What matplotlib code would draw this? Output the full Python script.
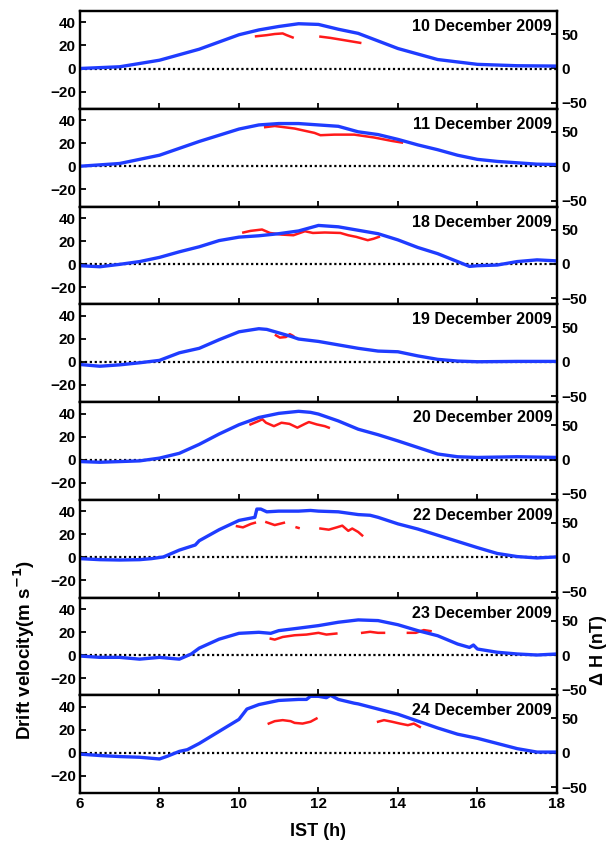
"""Deriva vertical (vermelho) e ΔH (azul) para oito dias de dezembro de 2009."""

import matplotlib

matplotlib.use("Agg")
import matplotlib.pyplot as plt
import numpy as np

nan = np.nan

# ---- 10 December 2009 ----
h10_t = [6, 7, 8, 9, 10, 10.5, 11, 11.5, 12, 12.5, 13, 14, 15, 16, 17, 18]
h10_dh = [0, 2.5, 12, 28, 49, 56, 61, 65, 64, 57, 51, 29, 13, 6, 4, 3.5]
v10_t = [10.43, 10.7, 10.9, 11.1, 11.2, 11.35, 11.36, 12.05, 12.3, 12.6, 13.05]
v10_v = [28, 29, 30, 30.5, 29, 27, nan, 27.7, 26.6, 24.9, 22.3]

# ---- 11 December 2009 ----
h11_t = [6, 7, 8, 9, 10, 10.5, 11, 11.5, 12, 12.5, 13, 13.5, 14, 14.5, 15, 15.5,
         16, 16.5, 17, 17.5, 18]
h11_dh = [0, 4, 16, 36, 54, 60, 62, 62, 60, 58, 50, 46, 39, 31, 24, 16,
          10, 7, 5, 3, 2.5]
v11_t = [10.66, 10.9, 11.4, 11.9, 12.05, 12.4, 12.9, 13.4, 13.85, 14.1]
v11_v = [34, 35, 32.8, 29, 27, 27.5, 27.5, 25, 22, 20.6]

# ---- 18 December 2009 ----
h18_t = [6, 6.5, 7, 7.5, 8, 8.5, 9, 9.5, 10, 10.5, 11, 11.5, 12, 12.5, 13,
         13.5, 14, 14.5, 15, 15.5, 15.8, 16, 16.5, 17, 17.5, 18]
h18_dh = [-2.5, -4, -0.5, 3.5, 9.6, 17.7, 25, 34, 39, 41, 44, 48, 56, 54, 49,
          44, 35, 24, 15, 3.5, -3.5, -2.5, -1.5, 3.5, 6, 4.5]
v18_t = [10.11, 10.29, 10.58, 10.78, 11.07, 11.37, 11.66, 11.86, 12.16,
         12.55, 12.75, 12.95, 13.24, 13.39, 13.52]
v18_v = [27.4, 28.8, 30, 27, 25.6, 25, 28.5, 27, 27.4, 27, 25, 23.6, 20.7, 22, 23.6]

# ---- 19 December 2009 ----
h19_t = [6, 6.5, 7, 7.5, 8, 8.5, 9, 9.5, 10, 10.5, 10.7, 11, 11.3, 11.5, 12,
         12.5, 13, 13.5, 14, 14.5, 15, 15.5, 16, 17, 18]
h19_dh = [-4, -6.5, -4.5, -1.5, 2, 13, 19.5, 32, 43.5, 48, 47, 42, 37, 33, 29.5,
          24.5, 19.5, 15.5, 14.5, 8.5, 3.5, 1, 0, 0.5, 0.5]
v19_t = [10.93, 11.03, 11.18, 11.28, 11.36]
v19_v = [23, 21, 21.5, 24, 22.5]

# ---- 20 December 2009 ----
h20_t = [6, 6.5, 7, 7.5, 8, 8.5, 9, 9.5, 10, 10.5, 11, 11.5, 11.8, 12, 12.5,
         13, 13.5, 14, 14.5, 15, 15.5, 16, 17, 18]
h20_dh = [-3, -4, -3, -2, 2, 9, 22, 37, 50.5, 61, 67, 70, 68.5, 66, 56,
          44, 36, 27, 17.5, 8, 4, 3, 4, 3]
v20_t = [10.29, 10.49, 10.59, 10.68, 10.88, 11.07, 11.27, 11.47, 11.66,
         11.76, 11.96, 12.16, 12.26]
v20_v = [30.5, 33.4, 35, 32, 29, 32, 31, 27.7, 31, 32.6, 30.5, 29, 27.7]

# ---- 22 December 2009 ----
h22_t = [6, 6.5, 7, 7.5, 7.8, 8.1, 8.5, 8.9, 9, 9.5, 10, 10.4, 10.45, 10.55,
         10.7, 11, 11.5, 11.8, 12, 12.5, 13, 13.3, 13.5, 14, 14.5, 15, 15.5,
         16, 16.5, 17, 17.5, 18]
h22_dh = [-2, -3.5, -4, -3.5, -2, 0.5, 10.4, 17.8, 24, 40, 53.5, 58, 70, 70,
          66, 67, 67, 68, 67, 66, 62, 61, 58, 48.5, 41, 32, 23,
          14, 5.5, 1, -1, 0.5]
v22_t = [9.95, 10.1, 10.3, 10.4, 10.41, 10.69, 10.9, 11.13, 11.14, 11.45,
         11.5, 11.51, 12.05, 12.26, 12.46, 12.6, 12.75, 12.85, 13.0, 13.1]
v22_v = [27, 26, 29, 30, nan, 30.5, 28, 30, nan, 26, 25.5, nan, 25, 24, 26,
         27.5, 23, 25, 22, 19]

# ---- 23 December 2009 ----
h23_t = [6, 6.5, 7, 7.5, 8, 8.5, 8.8, 9, 9.5, 10, 10.5, 10.8, 11, 11.5, 12,
         12.5, 13, 13.5, 14, 14.5, 15, 15.5, 15.8, 15.9, 16, 16.5, 17, 17.5, 18]
h23_dh = [-1.5, -3.4, -3.4, -6, -3.4, -6, 1.5, 10, 23, 31.5, 33, 31.5, 35.4,
          39, 42.7, 47.6, 51, 50, 44, 35.4, 28, 16, 11, 14.5, 8.7, 4, 1.5, 0, 1.5]
v23_t = [10.8, 10.9, 11.1, 11.4, 11.7, 12.0, 12.2, 12.45, 12.46, 13.1, 13.3,
         13.5, 13.65, 13.66, 14.25, 14.45, 14.65, 14.82]
v23_v = [14.2, 13.4, 15.7, 17.2, 17.8, 19.3, 17.8, 18.7, nan, 19.3, 20.2,
         19.3, 19.3, nan, 19.3, 19.3, 21.7, 20.8]

# ---- 24 December 2009 ----
h24_t = [6, 6.5, 7, 7.5, 8, 8.2, 8.5, 8.7, 9, 9.5, 10, 10.2, 10.5, 11, 11.5,
         11.7, 11.8, 12, 12.2, 12.3, 12.5, 12.9, 13, 13.5, 14, 14.5, 15, 15.5,
         16, 16.5, 17, 17.5, 18]
h24_dh = [-2, -4, -5.5, -6.5, -9, -5, 2, 4.5, 13.5, 31, 48.5, 63.5, 70, 76, 77.5,
          77.5, 82, 82, 80, 83.5, 77.5, 72, 71, 63.5, 56, 46, 36, 27,
          21, 13.5, 6, 1, 1]
v24_t = [10.75, 10.9, 11.1, 11.3, 11.4, 11.6, 11.8, 11.95, 11.96, 13.5, 13.65,
         13.85, 14.05, 14.25, 14.4, 14.55]
v24_v = [25.4, 27.5, 28.4, 27.5, 26, 25.4, 27, 29.8, nan, 27, 28.4, 27, 25.4,
         24, 25.4, 22.5]

paineis = [
    ("10 December 2009", h10_t, h10_dh, v10_t, v10_v),
    ("11 December 2009", h11_t, h11_dh, v11_t, v11_v),
    ("18 December 2009", h18_t, h18_dh, v18_t, v18_v),
    ("19 December 2009", h19_t, h19_dh, v19_t, v19_v),
    ("20 December 2009", h20_t, h20_dh, v20_t, v20_v),
    ("22 December 2009", h22_t, h22_dh, v22_t, v22_v),
    ("23 December 2009", h23_t, h23_dh, v23_t, v23_v),
    ("24 December 2009", h24_t, h24_dh, v24_t, v24_v),
]

plt.rcParams["font.family"] = ["Liberation Sans", "DejaVu Sans"]
plt.rcParams["font.weight"] = "bold"
plt.rcParams["font.size"] = 11

AZUL = "#1f3cff"
VERMELHO = "#ff1a1a"

fig = plt.figure(figsize=(6.13, 8.46), dpi=100)
esquerda, largura = 0.1305, 0.778
topo, base = 0.987, 0.0626
altura = (topo - base) / len(paineis)

for i, (data, t_dh, dh, t_v, v) in enumerate(paineis):
    y0 = topo - (i + 1) * altura
    eixo = fig.add_axes([esquerda, y0, largura, altura])
    eixo_dh = eixo.twinx()

    eixo.axhline(0, color="black", ls=(0, (1, 1.2)), lw=1.6, zorder=1)
    eixo.plot(t_v, v, color=VERMELHO, lw=1.8, zorder=3)
    eixo_dh.plot(t_dh, dh, color=AZUL, lw=2.4, zorder=2)

    eixo.set_xlim(6, 18)
    eixo.set_ylim(-35, 50)
    eixo_dh.set_ylim(-58.5, 83.5)
    eixo.set_yticks([-20, 0, 20, 40])
    eixo_dh.set_yticks([-50, 0, 50])
    eixo.set_xticks(range(6, 19, 2))

    eixo.tick_params(axis="both", direction="in", length=4, width=1.3, pad=3,
                     top=False)
    eixo_dh.tick_params(axis="y", direction="in", length=4, width=1.3, pad=3)
    if i < len(paineis) - 1:
        eixo.tick_params(axis="x", labelbottom=False)

    for ax in (eixo, eixo_dh):
        for lado in ax.spines.values():
            lado.set_linewidth(1.6)

    eixo.text(0.99, 0.84, data, transform=eixo.transAxes, ha="right",
              va="center", fontsize=11.5, fontweight="bold")

fig.text(0.040, 0.232, "Drift velocity(m s$^{\\mathbf{-1}}$)", rotation=90,
         ha="center", va="center", fontsize=13.5, fontweight="bold")
fig.text(0.977, 0.232, "Δ H (nT)", rotation=90, ha="center", va="center",
         fontsize=13, fontweight="bold")
fig.text(0.519, 0.017, "IST (h)", ha="center", va="center",
         fontsize=13, fontweight="bold")

fig.savefig("out.png", dpi=100)
